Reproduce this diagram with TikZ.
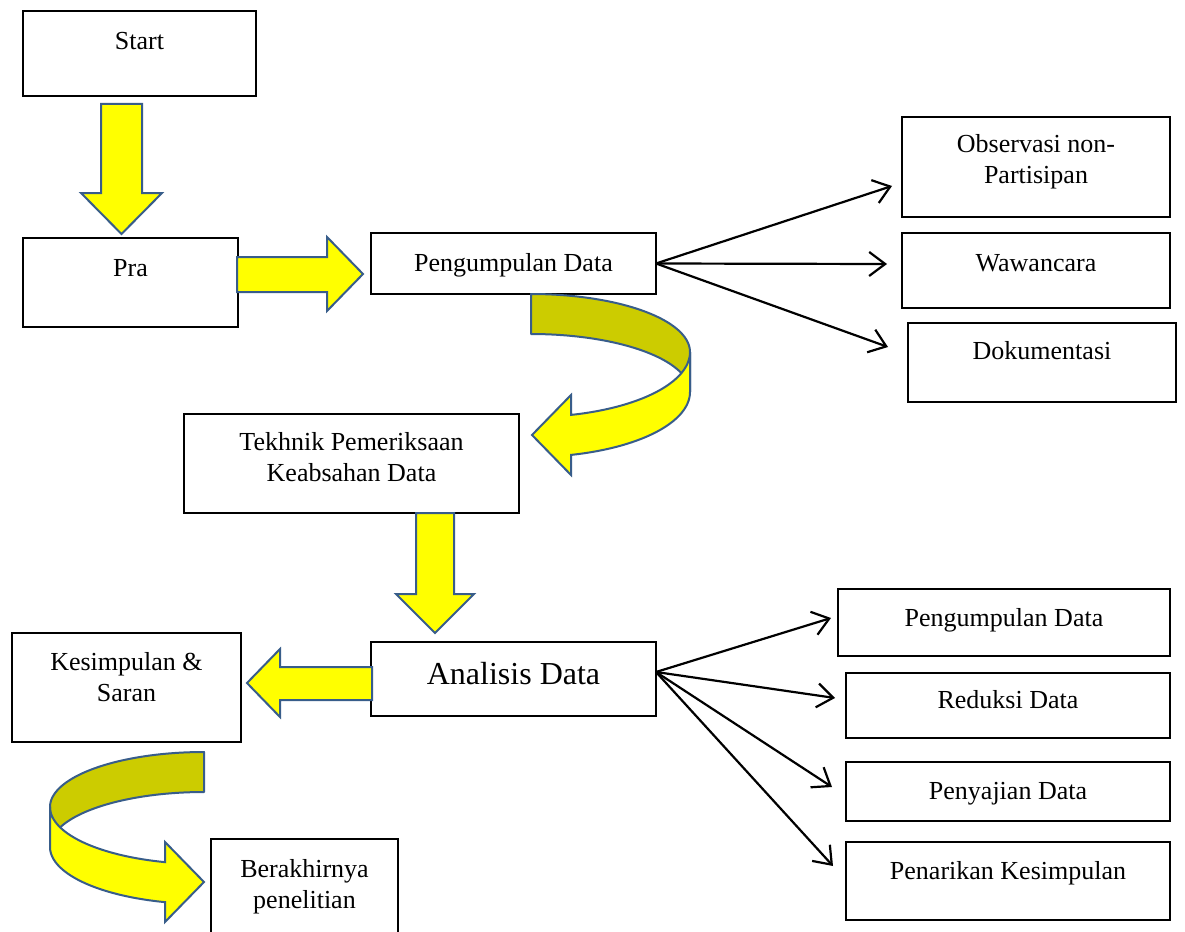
\documentclass[tikz,border=0pt]{standalone}
\usepackage{fontspec}
\setmainfont{Liberation Serif}
\usetikzlibrary{arrows.meta,calc}
\definecolor{arrowyellow}{RGB}{255,255,0}
\definecolor{arrowolive}{RGB}{204,204,0}
\definecolor{arrowedge}{RGB}{56,93,138}

\begin{document}
\begin{tikzpicture}[x=1pt,y=-1pt,
  box/.style={draw=black, line width=2.2pt, anchor=north west, inner sep=0pt, outer sep=0pt},
  boxtext/.style={anchor=north, inner sep=0pt, align=center, font=\fontsize{26}{31}\selectfont},
  bigtext/.style={anchor=north, inner sep=0pt, align=center, font=\fontsize{32}{38}\selectfont},
  blockarrow/.style={fill=arrowyellow, draw=arrowedge, line width=2pt, line join=miter},
  backband/.style={fill=arrowolive, draw=arrowedge, line width=2pt, line join=round},
  frontband/.style={fill=arrowyellow, draw=arrowedge, line width=2pt, line join=miter},
  link/.style={draw=black, line width=2.2pt, -{Straight Barb[length=16pt,width=24pt,line width=2.2pt]}}
]
\useasboundingbox (0,0) rectangle (1185,931);
\clip (0,0) rectangle (1185,931);
\fill[white] (0,0) rectangle (1185,931);

% ---- boxes ----
\node[box, minimum width=233, minimum height=85]  (start) at (23,11)  {};
\node[box, minimum width=215, minimum height=89]  (pra)   at (23,238) {};
\node[box, minimum width=285, minimum height=61]  (pd)    at (371,233) {};
\node[box, minimum width=268, minimum height=100] (obs)   at (902,117) {};
\node[box, minimum width=268, minimum height=75]  (waw)   at (902,233) {};
\node[box, minimum width=268, minimum height=79]  (dok)   at (908,323) {};
\node[box, minimum width=335, minimum height=99]  (tek)   at (184,414) {};
\node[box, minimum width=285, minimum height=74]  (ana)   at (371,642) {};
\node[box, minimum width=229, minimum height=109] (kes)   at (12,633) {};
\node[box, minimum width=187, minimum height=111] (ber)   at (211,839) {};
\node[box, minimum width=332, minimum height=67]  (pdb)   at (838,589) {};
\node[box, minimum width=324, minimum height=65]  (red)   at (846,673) {};
\node[box, minimum width=324, minimum height=59]  (pen)   at (846,762) {};
\node[box, minimum width=324, minimum height=78]  (tar)   at (846,842) {};

% ---- box texts ----
\node[boxtext] (start-t) at ($(start.north)+(0,21)$) {Start};
\node[boxtext] (pra-t)   at ($(pra.north)+(0,21)$)   {Pra};
\node[boxtext] (pd-t)    at ($(pd.north)+(0,20.5)$)  {Pengumpulan Data};
\node[boxtext] (obs-t)   at ($(obs.north)+(0,17.5)$) {Observasi non-\\Partisipan};
\node[boxtext] (waw-t)   at ($(waw.north)+(0,21)$)   {Wawancara};
\node[boxtext] (dok-t)   at ($(dok.north)+(0,18.5)$) {Dokumentasi};
\node[boxtext] (tek-t)   at ($(tek.north)+(0,18.5)$) {Tekhnik Pemeriksaan\\Keabsahan Data};
\node[bigtext] (ana-t)   at ($(ana.north)+(0,20)$)   {Analisis Data};
\node[boxtext] (kes-t)   at ($(kes.north)+(0,19.5)$) {Kesimpulan \&\\Saran};
\node[boxtext] (ber-t)   at ($(ber.north)+(0,20)$)   {Berakhirnya\\penelitian};
\node[boxtext] (pdb-t)   at ($(pdb.north)+(0,19.5)$) {Pengumpulan Data};
\node[boxtext] (red-t)   at ($(red.north)+(0,17.5)$) {Reduksi Data};
\node[boxtext] (pen-t)   at ($(pen.north)+(0,20.5)$) {Penyajian Data};
\node[boxtext] (tar-t)   at ($(tar.north)+(0,19.5)$) {Penarikan Kesimpulan};

% ---- straight block arrows ----
\draw[blockarrow] (101,104) -- (142,104) -- (142,193) -- (162,193) -- (121.5,234)
  -- (81,193) -- (101,193) -- cycle;
\draw[blockarrow] (237,257) -- (327,257) -- (327,237) -- (363,274) -- (327,311)
  -- (327,292) -- (237,292) -- cycle;
\draw[blockarrow] (416,513) -- (454,513) -- (454,594) -- (474,594) -- (435,633)
  -- (396,594) -- (416,594) -- cycle;
\draw[blockarrow] (372,667) -- (280,667) -- (280,649) -- (247,683) -- (280,717)
  -- (280,700) -- (372,700) -- cycle;

% ---- curved ribbon arrow: Pengumpulan Data to Tekhnik ----
\draw[backband]
  plot[domain=270:360, samples=50, variable=\t] ({531+159*cos(\t)},{352+58*sin(\t)})
  -- (690,392)
  -- plot[domain=360:270, samples=50, variable=\t] ({531+159*cos(\t)},{392+58*sin(\t)})
  -- cycle;
\draw[frontband]
  plot[domain=0:75.43, samples=50, variable=\t] ({531+159*cos(\t)},{352+65*sin(\t)})
  -- (571,395) -- (532,435) -- (571,475)
  -- plot[domain=75.43:0, samples=50, variable=\t] ({531+159*cos(\t)},{392+65*sin(\t)})
  -- cycle;

% ---- curved ribbon arrow: Kesimpulan to Berakhirnya ----
\draw[backband]
  plot[domain=270:180, samples=50, variable=\t] ({204+154*cos(\t)},{807+55*sin(\t)})
  -- (50,847)
  -- plot[domain=180:270, samples=50, variable=\t] ({204+154*cos(\t)},{847+55*sin(\t)})
  -- cycle;
\draw[frontband]
  plot[domain=180:104.67, samples=50, variable=\t] ({204+154*cos(\t)},{807+57*sin(\t)})
  -- (165,842) -- (204,882) -- (165,922)
  -- plot[domain=104.67:180, samples=50, variable=\t] ({204+154*cos(\t)},{847+57*sin(\t)})
  -- cycle;

% ---- line connectors ----
\coordinate (to-obs) at (892,186);
\coordinate (to-waw) at (887,264);
\coordinate (to-dok) at (888,347);
\coordinate (to-pdb) at (831,618);
\coordinate (to-red) at (835,698);
\coordinate (to-pen) at (832,787);
\coordinate (to-tar) at (833,866);

\draw[link] (pd.east) -- (to-obs);
\draw[link] (pd.east) -- (to-waw);
\draw[link] (pd.east) -- (to-dok);
\draw[link] ([yshift=7pt]ana.east) -- (to-pdb);
\draw[link] ([yshift=7pt]ana.east) -- (to-red);
\draw[link] ([yshift=7pt]ana.east) -- (to-pen);
\draw[link] ([yshift=7pt]ana.east) -- (to-tar);
\end{tikzpicture}
\end{document}
